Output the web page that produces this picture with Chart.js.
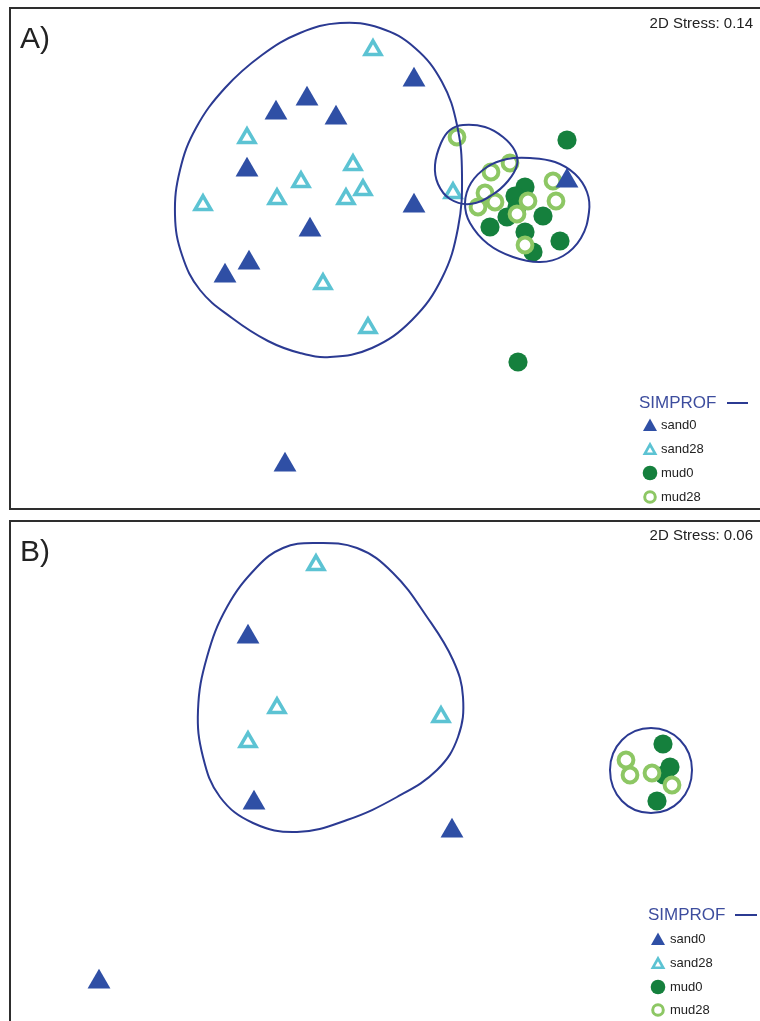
<!DOCTYPE html>
<html>
<head>
<meta charset="utf-8">
<script src="https://cdn.jsdelivr.net/npm/chart.js@4.4.1/dist/chart.umd.min.js"></script>
<style>
  html, body { margin: 0; padding: 0; background: #fff; }
  body { width: 760px; height: 1021px; overflow: hidden; position: relative;
         font-family: "Liberation Sans", Arial, sans-serif; color: #222; }
  .panel { position: absolute; border: 2px solid #2e2e2e; background: #fff; }
  .panel canvas { display: block; }
  .tag { position: absolute; left: 20px; font-size: 30px; line-height: 1; color: #222; }
  .stress { position: absolute; right: 7px; font-size: 15px; line-height: 1; color: #222; white-space: nowrap; }
  .legend { position: absolute; left: 0; top: 0; }
  .lg-head { position: absolute; font-size: 17px; line-height: 18px; color: #3d4d9e; white-space: nowrap; }
  .lg-dash { position: absolute; height: 2px; background: #2b3a92; }
  .lg-row { position: absolute; height: 16px; }
  .lg-row svg { position: absolute; top: 0; }
  .lg-row span { position: absolute; top: 0; font-size: 13px; line-height: 16px; color: #222; white-space: nowrap; }
</style>
</head>
<body>

<div class="panel" style="left:9px; top:7px; width:760px; height:499px;"><canvas id="chartA" width="760" height="499"></canvas></div>
<div class="panel" style="left:9px; top:520px; width:760px; height:520px;"><canvas id="chartB" width="760" height="520"></canvas></div>

<div class="tag" style="top:23px;">A)</div>
<div class="tag" style="top:536px;">B)</div>
<div class="stress" id="stressA" style="top:15px;"></div>
<div class="stress" id="stressB" style="top:527px;"></div>
<div id="legends"></div>

<script>
// nMDS ordination scores (arbitrary units), one list of [x, y] per sample group

// --- A) ---
const sand0A = [[0.24, 1.78], [-0.83, 1.59], [-1.14, 1.45], [-0.54, 1.40], [-1.43, 0.88],
                [0.24, 0.52], [-0.80, 0.28], [-1.41, -0.05], [-1.65, -0.18], [1.77, 0.77],
                [-1.05, -2.07]];
const sand28A = [[-0.17, 2.08], [-1.43, 1.20], [-0.37, 0.93], [-0.89, 0.76], [-0.27, 0.68],
                 [-0.44, 0.59], [-1.13, 0.59], [-1.87, 0.53], [-0.67, -0.26], [-0.22, -0.70],
                 [0.63, 0.65]];
const mud0A = [[1.77, 1.18], [1.35, 0.71], [1.25, 0.62], [1.27, 0.51], [1.17, 0.41],
               [1.00, 0.31], [1.53, 0.42], [1.35, 0.26], [1.43, 0.06], [1.70, 0.17],
               [1.28, -1.04]];
const mud28A = [[0.67, 1.21], [1.20, 0.95], [1.01, 0.86], [1.63, 0.77], [0.95, 0.65],
                [1.05, 0.56], [0.88, 0.51], [1.38, 0.57], [1.66, 0.57], [1.27, 0.44],
                [1.35, 0.13]];

// SIMPROF group outlines, A)
const simprofA1 = [[-0.50, 2.35], [-0.10, 2.30], [0.25, 2.10], [0.52, 1.76], [0.67, 1.33],
                   [0.72, 0.83], [0.68, 0.30], [0.52, -0.20], [0.22, -0.62], [-0.18, -0.90],
                   [-0.60, -0.99], [-0.90, -0.95], [-1.22, -0.83], [-1.58, -0.60], [-1.90, -0.32],
                   [-2.08, 0.03], [-2.15, 0.43], [-2.10, 0.88], [-1.94, 1.30], [-1.65, 1.70],
                   [-1.28, 2.03], [-0.90, 2.25]];
const simprofA2 = [[0.73, 1.33], [0.95, 1.31], [1.13, 1.21], [1.25, 1.07], [1.27, 0.93],
                   [1.18, 0.77], [1.02, 0.63], [0.80, 0.54], [0.60, 0.59], [0.48, 0.74],
                   [0.45, 0.93], [0.51, 1.15], [0.60, 1.28]];
const simprofA3 = [[1.40, 1.00], [1.65, 0.96], [1.85, 0.84], [1.97, 0.66], [1.99, 0.46],
                   [1.91, 0.20], [1.73, 0.02], [1.50, -0.04], [1.23, 0.01], [0.98, 0.14],
                   [0.80, 0.35], [0.75, 0.55], [0.81, 0.75], [0.97, 0.91], [1.17, 0.99]];

// --- B) ---
const sand0B = [[-1.42, 1.34], [-1.36, -0.32], [0.62, -0.60], [-2.91, -2.11]];
const sand28B = [[-0.74, 2.06], [-1.13, 0.63], [-1.42, 0.29], [0.51, 0.54]];
const mud0B = [[2.73, 0.27], [2.80, 0.04], [2.74, -0.04], [2.67, -0.30]];
const mud28B = [[2.36, 0.11], [2.40, -0.04], [2.62, -0.02], [2.82, -0.14]];

const simprofB1 = [[-0.77, 2.28], [-0.33, 2.23], [0.03, 1.98], [0.37, 1.54], [0.63, 1.11],
                   [0.73, 0.74], [0.68, 0.34], [0.47, 0.01], [0.07, -0.26], [-0.43, -0.49],
                   [-0.93, -0.61], [-1.37, -0.52], [-1.70, -0.26], [-1.87, 0.14], [-1.92, 0.61],
                   [-1.83, 1.14], [-1.63, 1.64], [-1.33, 2.04], [-1.07, 2.23]];
const simprofB2 = [[2.61, 0.43], [2.90, 0.31], [3.02, 0.01], [2.90, -0.30], [2.61, -0.42],
                   [2.32, -0.30], [2.20, 0.01], [2.32, 0.31]];

const groupNames = ['sand0', 'sand28', 'mud0', 'mud28'];
const stressA = 0.14;
const stressB = 0.06;
const outlineName = 'SIMPROF';

// axis windows of the two ordination plots
const xWindow = [-3.79, 3.81];
const yWindowA = [-2.50, 2.49];
const yWindowB = [-2.71, 2.49];

// ---------------------------------------------------------------
const COL = {
  sand0: '#2f4fa5',
  sand28: '#5cc3d3',
  mud0: '#15803d',
  mud28: '#8dc764',
  line: '#2b3a92'
};

const markerStyle = {
  sand0:  { pointStyle: 'triangle', pointRadius: 13.2, pointBackgroundColor: COL.sand0, pointBorderWidth: 0, order: 1 },
  sand28: { pointStyle: 'triangle', pointRadius: 9.2, pointBackgroundColor: '#ffffff', pointBorderColor: COL.sand28, pointBorderWidth: 3.5, order: 2 },
  mud28:  { pointStyle: 'circle', pointRadius: 7.4, pointBackgroundColor: '#ffffff', pointBorderColor: COL.mud28, pointBorderWidth: 4, order: 3 },
  mud0:   { pointStyle: 'circle', pointRadius: 9.6, pointBackgroundColor: COL.mud0, pointBorderWidth: 0, order: 4 }
};

const toXY = pts => pts.map(p => ({ x: p[0], y: p[1] }));

// closed smooth outline: wrap the list so every visible segment has both neighbours
function outlineDataset(pts) {
  const n = pts.length;
  const seq = [pts[n - 1], ...pts, pts[0], pts[1]];
  const hidden = 'rgba(0,0,0,0)';
  return {
    label: outlineName,
    data: toXY(seq),
    showLine: true,
    tension: 0.4,
    borderColor: COL.line,
    borderWidth: 2,
    pointRadius: 0,
    pointHoverRadius: 0,
    fill: false,
    order: 0,
    segment: {
      borderColor: ctx => (ctx.p0DataIndex === 0 || ctx.p0DataIndex === n + 1) ? hidden : COL.line
    }
  };
}

function buildChart(id, groups, outlines, yWin) {
  const datasets = [];
  outlines.forEach(o => datasets.push(outlineDataset(o)));
  groupNames.forEach(name => {
    const s = markerStyle[name];
    datasets.push(Object.assign({ label: name, data: toXY(groups[name]), showLine: false }, s));
  });
  return new Chart(document.getElementById(id), {
    type: 'scatter',
    data: { datasets },
    options: {
      responsive: false,
      devicePixelRatio: 1,
      animation: false,
      events: [],
      layout: { padding: 0, autoPadding: false },
      scales: {
        x: { type: 'linear', display: false, min: xWindow[0], max: xWindow[1] },
        y: { type: 'linear', display: false, min: yWin[0], max: yWin[1] }
      },
      plugins: { legend: { display: false }, tooltip: { enabled: false } }
    }
  });
}

buildChart('chartA', { sand0: sand0A, sand28: sand28A, mud0: mud0A, mud28: mud28A },
           [simprofA1, simprofA2, simprofA3], yWindowA);
buildChart('chartB', { sand0: sand0B, sand28: sand28B, mud0: mud0B, mud28: mud28B },
           [simprofB1, simprofB2], yWindowB);

document.getElementById('stressA').textContent = '2D Stress: ' + stressA.toFixed(2);
document.getElementById('stressB').textContent = '2D Stress: ' + stressB.toFixed(2);

// legend symbols
function symbolSVG(name) {
  const ns = 'http://www.w3.org/2000/svg';
  const svg = document.createElementNS(ns, 'svg');
  svg.setAttribute('width', 16);
  svg.setAttribute('height', 16);
  let el;
  if (name === 'sand0' || name === 'sand28') {
    el = document.createElementNS(ns, 'polygon');
    if (name === 'sand0') {
      el.setAttribute('points', '8,1.5 15,14 1,14');
      el.setAttribute('fill', COL.sand0);
    } else {
      el.setAttribute('points', '8,3.5 13.2,12.8 2.8,12.8');
      el.setAttribute('fill', 'none');
      el.setAttribute('stroke', COL.sand28);
      el.setAttribute('stroke-width', '2.6');
    }
  } else {
    el = document.createElementNS(ns, 'circle');
    el.setAttribute('cx', 8);
    el.setAttribute('cy', 8);
    if (name === 'mud0') {
      el.setAttribute('r', 7.3);
      el.setAttribute('fill', COL.mud0);
    } else {
      el.setAttribute('r', 5.3);
      el.setAttribute('fill', '#fff');
      el.setAttribute('stroke', COL.mud28);
      el.setAttribute('stroke-width', '3');
    }
  }
  svg.appendChild(el);
  return svg;
}

function buildLegend(headLeft, headCenter, dashLeft, dashWidth, markCenter, textLeft, rowCenters) {
  const box = document.getElementById('legends');
  const head = document.createElement('div');
  head.className = 'lg-head';
  head.textContent = outlineName;
  head.style.left = headLeft + 'px';
  head.style.top = (headCenter - 9) + 'px';
  box.appendChild(head);
  const dash = document.createElement('div');
  dash.className = 'lg-dash';
  dash.style.left = dashLeft + 'px';
  dash.style.width = dashWidth + 'px';
  dash.style.top = (headCenter - 1) + 'px';
  box.appendChild(dash);
  groupNames.forEach((name, i) => {
    const row = document.createElement('div');
    row.className = 'lg-row';
    row.style.left = '0px';
    row.style.top = (rowCenters[i] - 8) + 'px';
    const svg = symbolSVG(name);
    svg.style.left = (markCenter - 8) + 'px';
    row.appendChild(svg);
    const t = document.createElement('span');
    t.textContent = name;
    t.style.left = textLeft + 'px';
    row.appendChild(t);
    box.appendChild(row);
  });
}

buildLegend(639, 403, 727, 21, 650, 661, [425, 449, 473, 497]);
buildLegend(648, 915, 735, 22, 658, 670, [939, 963, 987, 1010]);
</script>
</body>
</html>
